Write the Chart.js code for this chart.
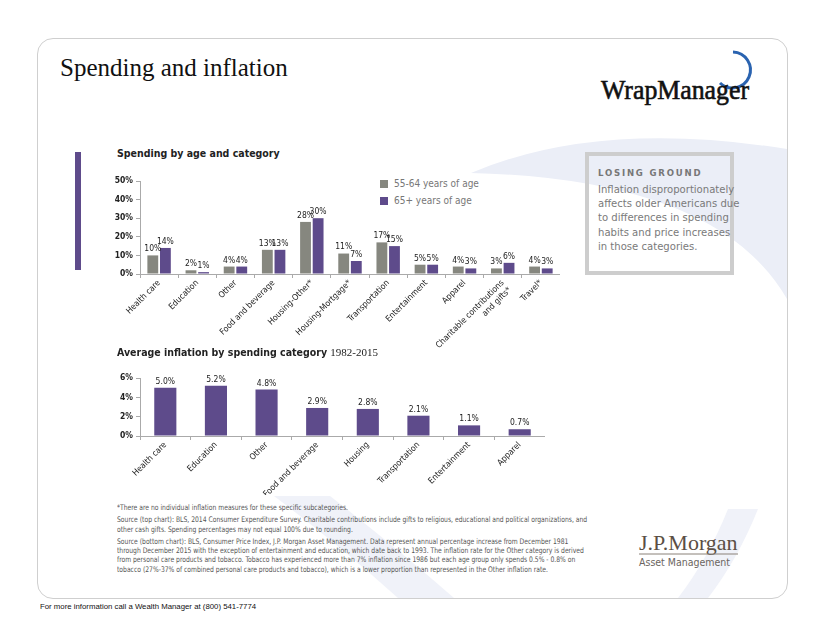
<!DOCTYPE html>
<html>
<head>
<meta charset="utf-8">
<script src="https://cdn.jsdelivr.net/npm/chart.js@4.4.0/dist/chart.umd.min.js"></script>
<style>
  body { margin: 0; width: 824px; height: 636px; background: #fff; position: relative; overflow: hidden; font-family: "DejaVu Sans Condensed", "DejaVu Sans", sans-serif; }
  .abs { position: absolute; }
  #card { left: 37px; top: 38px; width: 749px; height: 559px; border: 1px solid #cfcfcf; border-radius: 16px; overflow: hidden; }
  #title { left: 60px; top: 54px; font: 25px "Liberation Serif", serif; color: #111; }
  .ctitle { font-weight: bold; font-size: 10.5px; color: #222; white-space: nowrap; }
  .ctitle span { font: normal 11px "Liberation Serif", serif; }
  .leg { font-size: 10px; color: #777; white-space: nowrap; }
  .leg i { display: inline-block; width: 8px; height: 8px; margin-right: 6px; vertical-align: -1px; }
  #box { left: 585px; top: 152px; width: 141px; height: 115px; border: 4px solid #cdcdcd; }
  #box h4 { margin: 11px 0 0 9px; font-size: 9.5px; letter-spacing: 1.8px; color: #777; font-weight: bold; }
  #box p { margin: 5px 0 0 9px; font-size: 11.2px; line-height: 14.2px; color: #7a7a7a; white-space: nowrap; }
  #notes { left: 117px; top: 503px; font-size: 7.7px; color: #555; line-height: 9.3px; white-space: nowrap; transform: scaleX(0.875); transform-origin: 0 0; }
  #notes div { margin-bottom: 3px; }
  #footer { left: 40px; top: 602px; font: 7.8px "Liberation Sans", Arial, sans-serif; color: #111; }
</style>
</head>
<body>
<div id="card" class="abs">
  <svg width="749" height="559" style="position:absolute;left:0;top:0">
    <path d="M 433 134 Q 560 80 749 110 L 749 260 Q 680 140 433 134 Z" fill="#ebeef7"/>
    <path d="M 236 457 L 292 457 Q 360 510 416 559 L 360 559 Q 300 505 236 457 Z" fill="#f0f2f9"/>
    <path d="M 690 470 L 720 470 Q 700 520 670 559 L 640 559 Q 670 520 690 470 Z" fill="#f0f2f9"/>
  </svg>
</div>
<div id="title" class="abs">Spending and inflation</div>

<svg class="abs" style="left:590px;top:45px" width="170" height="65">
  <path d="M 143 7 A 18 18 0 1 1 130 38" fill="none" stroke="#2a63b0" stroke-width="3"/>
  <text x="11" y="54" font-family="Liberation Serif, serif" font-size="27" textLength="148" lengthAdjust="spacingAndGlyphs" fill="#111" stroke="#111" stroke-width="0.6">WrapManager</text>
</svg>

<div class="abs" style="left:75px;top:152px;width:6px;height:118px;background:#5e4b8b"></div>

<div class="abs ctitle" style="left:117px;top:147px">Spending by age and category</div>
<div class="abs leg" id="legend" style="left:380px;top:175px;line-height:17px"></div>
<canvas id="spendChart" class="abs" style="left:100px;top:170px" width="460" height="180"></canvas>

<div id="box" class="abs">
  <h4>LOSING GROUND</h4>
  <p>Inflation disproportionately<br>affects older Americans due<br>to differences in spending<br>habits and price increases<br>in those categories.</p>
</div>

<div class="abs ctitle" style="left:117px;top:346px">Average inflation by spending category <span>1982-2015</span></div>
<canvas id="inflChart" class="abs" style="left:100px;top:365px" width="445" height="130"></canvas>

<div id="notes" class="abs">
  <div>*There are no individual inflation measures for these specific subcategories.</div>
  <div>Source (top chart): BLS, 2014 Consumer Expenditure Survey. Charitable contributions include gifts to religious, educational and political organizations, and<br>other cash gifts. Spending percentages may not equal 100% due to rounding.</div>
  <div>Source (bottom chart): BLS, Consumer Price Index, J.P. Morgan Asset Management. Data represent annual percentage increase from December 1981<br>through December 2015 with the exception of entertainment and education, which date back to 1993. The inflation rate for the Other category is derived<br>from personal care products and tobacco. Tobacco has experienced more than 7% inflation since 1986 but each age group only spends 0.5% - 0.8% on<br>tobacco (27%-37% of combined personal care products and tobacco), which is a lower proportion than represented in the Other inflation rate.</div>
</div>

<svg class="abs" style="left:630px;top:528px" width="120" height="45">
  <text x="9" y="22" font-family="Liberation Serif, serif" font-size="22" fill="#5b4f45">J.P.Morgan</text>
  <line x1="9" y1="26" x2="108" y2="26" stroke="#8a8178" stroke-width="1"/>
  <text x="9" y="38" font-family="DejaVu Sans Condensed, sans-serif" font-size="10.5" fill="#6b6560">Asset Management</text>
</svg>

<div id="footer" class="abs">For more information call a Wealth Manager at (800) 541-7774</div>

<script>
// top chart: spending share by category
const spendCategories = ['Health care', 'Education', 'Other', 'Food and beverage', 'Housing-Other*',
  'Housing-Mortgage*', 'Transportation', 'Entertainment', 'Apparel',
  ['Charitable contributions', 'and gifts*'], 'Travel*'];
const age5564 = [10, 2, 4, 13, 28, 11, 17, 5, 4, 3, 4];
const age65plus = [14, 1, 4, 13, 30, 7, 15, 5, 3, 6, 3];
const spendTicks = [0, 10, 20, 30, 40, 50];

// bottom chart: average inflation 1982-2015
const inflCategories = ['Health care', 'Education', 'Other', 'Food and beverage', 'Housing',
  'Transportation', 'Entertainment', 'Apparel'];
const inflation = [5.0, 5.2, 4.8, 2.9, 2.8, 2.1, 1.1, 0.7];
const inflTicks = [0, 2, 4, 6];

const GRAY = '#86877f';
const PURPLE = '#5e4b8b';
const FONT = 'DejaVu Sans Condensed';

// value labels over the bars
const valueLabels = {
  id: 'valueLabels',
  afterDatasetsDraw(chart, args, opts) {
    const ctx = chart.ctx;
    ctx.save();
    ctx.font = '8.5px "' + FONT + '"';
    ctx.fillStyle = '#222';
    ctx.textAlign = 'center';
    ctx.textBaseline = 'bottom';
    chart.data.datasets.forEach((ds, i) => {
      chart.getDatasetMeta(i).data.forEach((bar, j) => {
        ctx.fillText(opts.format(ds.data[j]), bar.x, bar.y - 2);
      });
    });
    ctx.restore();
  }
};

function axes(ticks, xHeight) {
  return {
    x: {
      grid: { drawOnChartArea: false, color: '#aaa', tickLength: 4, offset: true },
      border: { color: '#aaa' },
      ticks: { minRotation: 45, maxRotation: 45, padding: 0, color: '#222', font: { family: FONT, size: 8.5 } },
      afterFit(s) { s.height = xHeight; }
    },
    y: {
      min: ticks[0], max: ticks[ticks.length - 1],
      afterBuildTicks(s) { s.ticks = ticks.map(v => ({ value: v })); },
      grid: { drawOnChartArea: false, color: '#aaa', tickLength: 4 },
      border: { color: '#aaa' },
      ticks: { padding: 3, color: '#222', font: { family: FONT, size: 8.5, weight: 'bold' }, callback: v => v + '%' },
      afterFit(s) { s.width = 40; }
    }
  };
}

const spendChart = new Chart(document.getElementById('spendChart'), {
  type: 'bar',
  data: {
    labels: spendCategories,
    datasets: [
      { label: '55-64 years of age', data: age5564, backgroundColor: GRAY },
      { label: '65+ years of age', data: age65plus, backgroundColor: PURPLE }
    ]
  },
  options: {
    responsive: false, animation: false, devicePixelRatio: 1,
    layout: { padding: { top: 11, right: 0, left: 0, bottom: 0 } },
    datasets: { bar: { categoryPercentage: 0.66, barPercentage: 0.86 } },
    plugins: { legend: { display: false }, tooltip: { enabled: false },
      valueLabels: { format: v => v + '%' } },
    scales: axes(spendTicks, 76)
  },
  plugins: [valueLabels]
});

document.getElementById('legend').innerHTML = spendChart.data.datasets
  .map(d => '<div><i style="background:' + d.backgroundColor + '"></i>' + d.label + '</div>').join('');

new Chart(document.getElementById('inflChart'), {
  type: 'bar',
  data: {
    labels: inflCategories,
    datasets: [{ label: 'Average inflation', data: inflation, backgroundColor: PURPLE }]
  },
  options: {
    responsive: false, animation: false, devicePixelRatio: 1,
    layout: { padding: { top: 13, right: 0, left: 0, bottom: 0 } },
    datasets: { bar: { categoryPercentage: 0.46, barPercentage: 0.95 } },
    plugins: { legend: { display: false }, tooltip: { enabled: false },
      valueLabels: { format: v => v.toFixed(1) + '%' } },
    scales: axes(inflTicks, 59)
  },
  plugins: [valueLabels]
});
</script>
</body>
</html>
